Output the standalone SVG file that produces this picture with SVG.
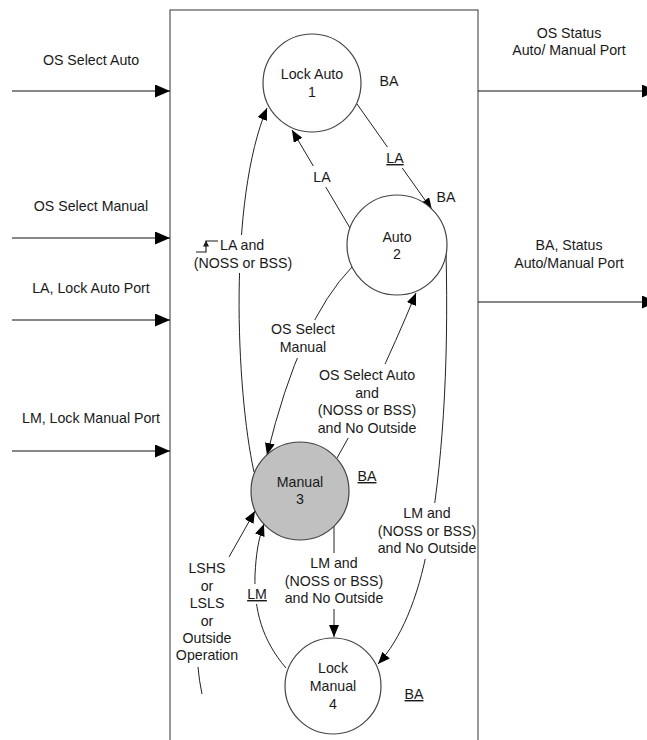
<svg xmlns="http://www.w3.org/2000/svg" width="647" height="740" viewBox="0 0 647 740">
  <defs>
    <marker id="arrowBig" markerUnits="userSpaceOnUse" markerWidth="15" markerHeight="13" refX="15" refY="6.5" orient="auto">
      <path d="M0,0 L15,6.5 L0,13 z" fill="#000"/>
    </marker>
    <marker id="arrow" markerUnits="userSpaceOnUse" markerWidth="12" markerHeight="10" refX="12" refY="5" orient="auto">
      <path d="M0,0 L12,5 L0,10 z" fill="#000"/>
    </marker>
  </defs>
  <style>
    text { font-family: "Liberation Sans", Arial, sans-serif; font-size: 14.2px; fill: #1a1a1a; text-anchor: middle; }
    .wire { fill: none; stroke: #222; stroke-width: 1; }
    .port { fill: none; stroke: #111; stroke-width: 1.2; }
    .frame { fill: none; stroke: #555; stroke-width: 1.2; }
    .state { fill: #fff; stroke: #444; stroke-width: 1.2; }
    .active { fill: #c0c0c0; }
    .knock { fill: #fff; }
    .u { text-decoration: underline; }
  </style>

  <rect width="647" height="740" fill="#fff"/>

  <!-- controller frame -->
  <rect id="frame" class="frame" x="170" y="10" width="308" height="760"/>

  <!-- input ports -->
  <g id="inputs">
    <line class="port" x1="12" y1="91" x2="170" y2="91" marker-end="url(#arrowBig)"/>
    <text x="91" y="65">OS Select Auto</text>
    <line class="port" x1="12" y1="238" x2="170" y2="238" marker-end="url(#arrowBig)"/>
    <text x="91" y="211">OS Select Manual</text>
    <line class="port" x1="12" y1="320" x2="170" y2="320" marker-end="url(#arrowBig)"/>
    <text x="91" y="293">LA, Lock Auto Port</text>
    <line class="port" x1="12" y1="451" x2="170" y2="451" marker-end="url(#arrowBig)"/>
    <text x="91" y="423">LM, Lock Manual Port</text>
  </g>

  <!-- output ports -->
  <g id="outputs">
    <line class="port" x1="478" y1="91" x2="657" y2="91" marker-end="url(#arrowBig)"/>
    <text x="569" y="38">OS Status</text>
    <text x="569" y="55">Auto/ Manual Port</text>
    <line class="port" x1="478" y1="302" x2="657" y2="302" marker-end="url(#arrowBig)"/>
    <text x="569" y="250">BA, Status</text>
    <text x="569" y="268">Auto/Manual Port</text>
  </g>

  <!-- transitions -->
  <g id="connectors">
    <line class="wire" x1="357" y1="104" x2="432" y2="210" marker-end="url(#arrow)"/>
    <line class="wire" x1="350" y1="228" x2="292" y2="130" marker-end="url(#arrow)"/>
    <path class="wire" d="M254,472 C236,390 228,200 267,108" marker-end="url(#arrow)"/>
    <path class="wire" d="M352,267 Q300,320 267,455" marker-end="url(#arrow)"/>
    <path class="wire" d="M337,458 Q375,392 416,293" marker-end="url(#arrow)"/>
    <path class="wire" d="M446,252 C449,370 442,470 428,545 C418,600 400,640 378,664" marker-end="url(#arrow)"/>
    <line class="wire" x1="334" y1="526" x2="334" y2="637" marker-end="url(#arrow)"/>
    <path class="wire" d="M286,668 C262,640 254,610 255,575 C256,555 258,540 264,524" marker-end="url(#arrow)"/>
    <path class="wire" d="M202,694 Q199,680 198,667"/>
    <line class="wire" x1="229" y1="557" x2="255" y2="511" marker-end="url(#arrow)"/>

    <!-- transition labels -->
    <g id="lbl-la-down">
      <rect class="knock" x="384" y="147" width="22" height="21"/>
      <text class="u" x="395" y="163">LA</text>
    </g>
    <g id="lbl-la-up">
      <rect class="knock" x="311" y="166" width="22" height="21"/>
      <text x="322" y="182">LA</text>
    </g>
    <g id="lbl-la-edge">
      <rect class="knock" x="192" y="235" width="102" height="38"/>
      <path d="M196,252 H206 V241 H218" fill="none" stroke="#1a1a1a" stroke-width="1.1"/>
      <path d="M203,246.5 L206,240.5 L209,246.5 z" fill="#1a1a1a"/>
      <text x="220" y="250" style="text-anchor:start">LA and</text>
      <text x="243" y="268">(NOSS or BSS)</text>
    </g>
    <g id="lbl-os-manual">
      <rect class="knock" x="268" y="320" width="70" height="38"/>
      <text x="303" y="334">OS Select</text>
      <text x="303" y="352">Manual</text>
    </g>
    <g id="lbl-os-auto">
      <rect class="knock" x="315" y="364" width="104" height="74"/>
      <text x="367" y="380">OS Select Auto</text>
      <text x="367" y="398">and</text>
      <text x="367" y="415">(NOSS or BSS)</text>
      <text x="367" y="433">and No Outside</text>
    </g>
    <g id="lbl-lm-right">
      <rect class="knock" x="376" y="503" width="101" height="56"/>
      <text x="427" y="518">LM and</text>
      <text x="427" y="536">(NOSS or BSS)</text>
      <text x="427" y="553">and No Outside</text>
    </g>
    <g id="lbl-lm-center">
      <rect class="knock" x="283" y="553" width="102" height="56"/>
      <text x="334" y="568">LM and</text>
      <text x="334" y="586">(NOSS or BSS)</text>
      <text x="334" y="603">and No Outside</text>
    </g>
    <g id="lbl-lm-back">
      <rect class="knock" x="246" y="584" width="22" height="20"/>
      <text class="u" x="257" y="599">LM</text>
    </g>
    <g id="lbl-outside">
      <text x="207" y="573">LSHS</text>
      <text x="207" y="591">or</text>
      <text x="207" y="608">LSLS</text>
      <text x="207" y="626">or</text>
      <text x="207" y="643">Outside</text>
      <text x="207" y="660">Operation</text>
    </g>
  </g>

  <!-- states -->
  <g id="state-lock-auto">
    <circle class="state" cx="312" cy="83" r="49"/>
    <text x="312" y="79">Lock Auto</text>
    <text x="312" y="97">1</text>
    <text x="389" y="86">BA</text>
  </g>
  <g id="state-auto">
    <circle class="state" cx="397" cy="245" r="50"/>
    <text x="397" y="242">Auto</text>
    <text x="397" y="259">2</text>
    <text x="446" y="202">BA</text>
  </g>
  <g id="state-manual">
    <circle class="state active" cx="300" cy="491" r="49"/>
    <text x="300" y="487">Manual</text>
    <text x="300" y="504">3</text>
    <text class="u" x="367" y="481">BA</text>
  </g>
  <g id="state-lock-manual">
    <circle class="state" cx="333" cy="686" r="48"/>
    <text x="333" y="673">Lock</text>
    <text x="333" y="691">Manual</text>
    <text x="333" y="709">4</text>
    <text class="u" x="414" y="699">BA</text>
  </g>
</svg>
